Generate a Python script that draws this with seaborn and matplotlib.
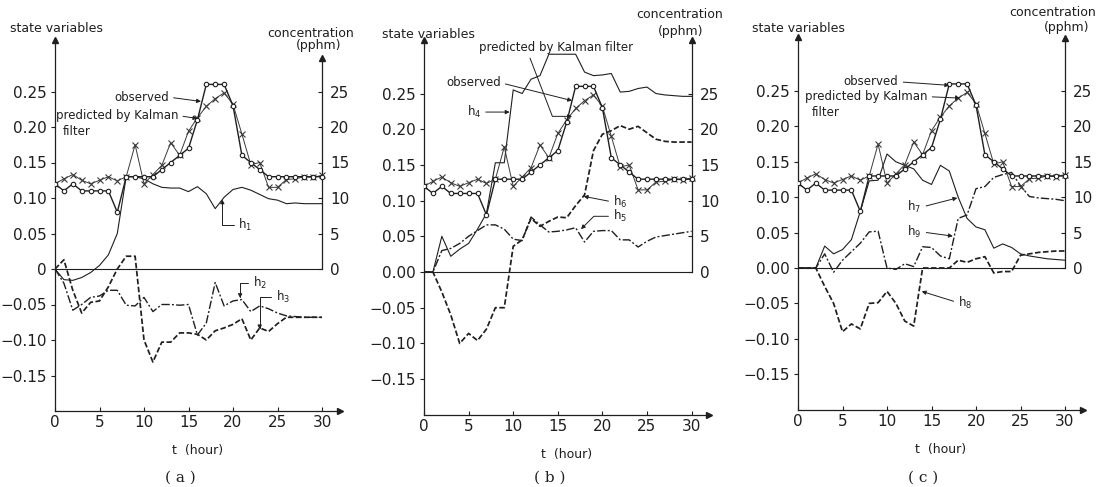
import matplotlib
matplotlib.use("Agg")
import matplotlib.pyplot as plt
import seaborn as sns
import pandas as pd

# ---------------- data ----------------
hours = list(range(31))

observed = [0.12, 0.11, 0.12, 0.11, 0.11, 0.11, 0.11, 0.08, 0.13, 0.13,
            0.13, 0.13, 0.14, 0.15, 0.16, 0.17, 0.21, 0.26, 0.26, 0.26,
            0.23, 0.16, 0.15, 0.14, 0.13, 0.13, 0.13, 0.13, 0.13, 0.13, 0.13]

predicted = [0.120, 0.127, 0.133, 0.125, 0.120, 0.125, 0.130, 0.124, 0.130, 0.175,
             0.120, 0.133, 0.146, 0.178, 0.160, 0.194, 0.213, 0.229, 0.240, 0.248,
             0.232, 0.190, 0.147, 0.150, 0.115, 0.115, 0.126, 0.127, 0.130, 0.129, 0.132]

# panel (a)
h1 = [0.0, -0.015, -0.016, -0.012, -0.005, 0.005, 0.020, 0.050, 0.130, 0.130,
      0.127, 0.120, 0.115, 0.114, 0.114, 0.109, 0.116, 0.106, 0.085, 0.101,
      0.112, 0.115, 0.111, 0.105, 0.099, 0.097, 0.092, 0.093, 0.092, 0.092, 0.092]
h2 = [0.0, -0.020, -0.058, -0.050, -0.040, -0.038, -0.030, -0.030, -0.051, -0.052,
      -0.040, -0.060, -0.050, -0.050, -0.051, -0.050, -0.093, -0.076, -0.019, -0.052,
      -0.045, -0.043, -0.060, -0.052, -0.056, -0.062, -0.066, -0.067, -0.068, -0.068, -0.068]
h3 = [0.0, 0.013, -0.030, -0.062, -0.047, -0.045, -0.025, 0.000, 0.018, 0.018,
      -0.100, -0.131, -0.103, -0.103, -0.090, -0.090, -0.092, -0.100, -0.087, -0.083,
      -0.078, -0.070, -0.100, -0.083, -0.088, -0.077, -0.068, -0.068, -0.068, -0.068, -0.068]

# panel (b)
h4 = [0.0, 0.0, 0.050, 0.022, 0.032, 0.040, 0.060, 0.082, 0.153, 0.153,
      0.255, 0.250, 0.270, 0.275, 0.305, 0.305, 0.305, 0.305, 0.280, 0.275,
      0.276, 0.278, 0.252, 0.253, 0.257, 0.259, 0.250, 0.248, 0.247, 0.246, 0.246]
h5 = [0.0, 0.0, 0.030, 0.033, 0.040, 0.050, 0.058, 0.066, 0.066, 0.060,
      0.046, 0.044, 0.077, 0.066, 0.056, 0.057, 0.059, 0.062, 0.042, 0.057,
      0.058, 0.058, 0.045, 0.045, 0.035, 0.043, 0.049, 0.051, 0.053, 0.055, 0.057]
h6 = [0.0, 0.0, -0.028, -0.060, -0.100, -0.086, -0.096, -0.080, -0.050, -0.050,
      0.036, 0.045, 0.075, 0.064, 0.071, 0.077, 0.076, 0.093, 0.108, 0.170,
      0.193, 0.198, 0.205, 0.200, 0.204, 0.195, 0.186, 0.183, 0.182, 0.182, 0.182]

# panel (c)
h7 = [0.0, 0.0, 0.0, 0.031, 0.020, 0.026, 0.040, 0.080, 0.123, 0.124,
      0.161, 0.150, 0.145, 0.140, 0.124, 0.118, 0.145, 0.137, 0.100, 0.070,
      0.058, 0.054, 0.028, 0.034, 0.029, 0.020, 0.017, 0.015, 0.013, 0.012, 0.011]
h8 = [0.0, 0.0, 0.0, -0.026, -0.050, -0.090, -0.079, -0.086, -0.050, -0.049,
      -0.033, -0.050, -0.075, -0.082, 0.000, 0.000, 0.000, 0.000, 0.011, 0.008,
      0.013, 0.016, -0.007, -0.005, -0.005, 0.018, 0.020, 0.022, 0.023, 0.024, 0.024]
h9 = [0.0, 0.0, 0.0, 0.020, -0.006, 0.011, 0.023, 0.035, 0.051, 0.052,
      0.000, -0.002, 0.006, 0.002, 0.030, 0.029, 0.017, 0.013, 0.070, 0.075,
      0.112, 0.115, 0.128, 0.132, 0.135, 0.116, 0.101, 0.099, 0.098, 0.097, 0.095]

x_ticks = [0, 5, 10, 15, 20, 25, 30]
y_ticks = [-0.15, -0.10, -0.05, 0.0, 0.05, 0.10, 0.15, 0.20, 0.25]
y_labels_a = ["\u22120.15", "\u22120.10", "\u22120.05", "0", "0.05", "0.10", "0.15", "0.20", "0.25"]
y_labels_bc = ["\u22120.15", "\u22120.10", "\u22120.05", "0.00", "0.05", "0.10", "0.15", "0.20", "0.25"]
conc_ticks = [0, 5, 10, 15, 20, 25]
panel_letters = ["( a )", "( b )", "( c )"]

# ---------------- style ----------------
sns.set_theme(style="ticks")
plt.rcParams["font.family"] = ["DejaVu Sans"]
plt.rcParams["mathtext.default"] = "regular"

INK = "#1f1f1f"
W, H = 1102, 487
fig = plt.figure(figsize=(W / 100, H / 100), dpi=100)
fig.patch.set_facecolor("white")

panels = [
    dict(x0=55, sx=8.9, y0=269, sy=710, ytop=0.322, rtop=29.7, ylab=y_labels_a,
         h=[("h$_1$", h1, "solid"), ("h$_2$", h2, "dashdot"), ("h$_3$", h3, "dashed")]),
    dict(x0=424, sx=8.92, y0=272, sy=714, ytop=0.325, rtop=32.5, ylab=y_labels_bc,
         h=[("h$_4$", h4, "solid"), ("h$_5$", h5, "dashdot"), ("h$_6$", h6, "dashed")]),
    dict(x0=798, sx=8.9, y0=268, sy=708, ytop=0.326, rtop=32.5, ylab=y_labels_bc,
         h=[("h$_7$", h7, "solid"), ("h$_9$", h9, "dashdot"), ("h$_8$", h8, "dashed")]),
]

LS = {"solid": "-", "dashdot": (0, (6, 1.6, 1.4, 1.6)), "dashed": (0, (3.2, 1.4))}
LW = {"solid": 0.8, "dashdot": 1.0, "dashed": 1.25}

axes = []
for i, p in enumerate(panels):
    xmax = 32
    left_px = p["x0"]
    right_px = p["x0"] + xmax * p["sx"]
    top_px = p["y0"] - p["ytop"] * p["sy"]
    bot_px = p["y0"] + 0.2 * p["sy"]
    ax = fig.add_axes([left_px / W, 1 - bot_px / H, (right_px - left_px) / W, (bot_px - top_px) / H])
    axes.append(ax)
    ax.set_facecolor("white")
    ax.set_xlim(0, xmax)
    ax.set_ylim(-0.2, p["ytop"])

    ax.axhline(0, xmin=0, xmax=30 / xmax, color=INK, lw=0.8, zorder=1)

    for name, vals, kind in p["h"]:
        sns.lineplot(x=hours, y=vals, ax=ax, color=INK, lw=LW[kind], linestyle=LS[kind],
                     estimator=None, sort=False, legend=False, zorder=2)
    sns.lineplot(x=hours, y=predicted, ax=ax, color="#3a3a3a", lw=0.7, marker="x", ms=4.5,
                 mew=0.8, mec="#3a3a3a", estimator=None, sort=False, legend=False, zorder=3)
    sns.lineplot(x=hours, y=observed, ax=ax, color=INK, lw=1.0, marker="o", ms=3.2,
                 mfc="white", mec=INK, mew=0.8, estimator=None, sort=False, legend=False, zorder=4)

    # axes styling
    for s in ["top", "right"]:
        ax.spines[s].set_visible(False)
    for s in ["left", "bottom"]:
        ax.spines[s].set_color(INK)
        ax.spines[s].set_linewidth(0.9)
    ax.set_xticks(x_ticks)
    ax.set_xticklabels([str(v) for v in x_ticks])
    ax.set_yticks(y_ticks)
    ax.set_yticklabels(p["ylab"])
    ax.tick_params(axis="x", direction="in", length=3, width=0.8, pad=3, labelsize=11, colors=INK)
    ax.tick_params(axis="y", direction="out", length=3, width=0.8, pad=3, labelsize=11, colors=INK)
    ax.set_xlabel("t  (hour)", fontsize=9, color=INK, labelpad=10)
    ax.set_ylabel("")

    # axis arrows
    ax.plot(0, 1, marker="^", color=INK, ms=4, transform=ax.get_xaxis_transform(), clip_on=False)
    ax.plot(1, -0.2, marker=">", color=INK, ms=4, transform=ax.get_yaxis_transform(), clip_on=False)

    # right concentration axis at t = 30
    sec = ax.secondary_yaxis(30 / xmax, functions=(lambda y: y * 100, lambda c: c / 100))
    sec.set_yticks(conc_ticks)
    sec.set_yticklabels([str(v) for v in conc_ticks])
    sec.spines["right"].set_bounds(0, p["rtop"])
    sec.spines["right"].set_color(INK)
    sec.spines["right"].set_linewidth(0.9)
    sec.tick_params(direction="in", length=3, width=0.8, pad=6, labelsize=11, colors=INK)
    ax.plot(30, p["rtop"] / 100, marker="^", color=INK, ms=4, clip_on=False)

    fig.text((left_px + 0.44 * (right_px - left_px)) / W, 9 / H, panel_letters[i],
             family="DejaVu Serif", fontsize=11, ha="center", va="center", color=INK)

# header texts
hdr = dict(fontsize=9, color=INK, va="center")
fig.text(10 / W, 1 - 29 / H, "state variables", ha="left", **hdr)
fig.text(311 / W, 1 - 33 / H, "concentration", ha="center", **hdr)
fig.text(319 / W, 1 - 46 / H, "(pphm)", ha="center", **hdr)
fig.text(382 / W, 1 - 34 / H, "state variables", ha="left", **hdr)
fig.text(680 / W, 1 - 15 / H, "concentration", ha="center", **hdr)
fig.text(681 / W, 1 - 31 / H, "(pphm)", ha="center", **hdr)
fig.text(752 / W, 1 - 29 / H, "state variables", ha="left", **hdr)
fig.text(1053 / W, 1 - 12 / H, "concentration", ha="center", **hdr)
fig.text(1067 / W, 1 - 27 / H, "(pphm)", ha="center", **hdr)

# annotations
def note(ax, text, xy, xytext, ha="left", conn="arc3", relpos=(0.5, 0.5), arrow="-|>"):
    ax.annotate(text, xy=xy, xytext=xytext, ha=ha, va="center", fontsize=8.5, color=INK,
                arrowprops=dict(arrowstyle=arrow, lw=0.7, color=INK, mutation_scale=6,
                                shrinkA=1, shrinkB=0, connectionstyle=conn, relpos=relpos),
                zorder=6)

a, b, c = axes
note(a, "observed", (16.4, 0.236), (12.8, 0.242), ha="right", relpos=(1, 0.5))
note(a, "predicted by Kalman", (16.0, 0.212), (0.1, 0.216), ha="left", relpos=(1, 0.5))
a.text(0.9, 0.194, "filter", fontsize=8.5, color=INK, va="center")
note(a, "h$_1$", (18.8, 0.098), (20.6, 0.062), conn="angle,angleA=0,angleB=90", relpos=(0, 0.5))
note(a, "h$_2$", (20.8, -0.041), (22.2, -0.020), conn="angle,angleA=0,angleB=90", relpos=(0, 0.5))
note(a, "h$_3$", (23.0, -0.085), (24.8, -0.039), conn="angle,angleA=0,angleB=90", relpos=(0, 0.5))

note(b, "predicted by Kalman filter", (16.6, 0.218), (14.8, 0.315), ha="center",
     conn="angle,angleA=-69,angleB=0", relpos=(0.32, 0))
note(b, "observed", (16.6, 0.240), (8.6, 0.265), ha="right", relpos=(1, 0.5))
note(b, "h$_4$", (9.6, 0.224), (4.8, 0.224), ha="left", relpos=(1, 0.5))
note(b, "h$_6$", (17.9, 0.106), (21.2, 0.098), ha="left", relpos=(0, 0.5))
note(b, "h$_5$", (17.6, 0.060), (21.2, 0.078), ha="left", conn="angle,angleA=0,angleB=45", relpos=(0, 0.5))

note(c, "observed", (17.0, 0.258), (11.3, 0.263), ha="right", relpos=(1, 0.5))
note(c, "predicted by Kalman", (18.2, 0.240), (0.8, 0.242), ha="left", relpos=(1, 0.5))
c.text(1.5, 0.219, "filter", fontsize=8.5, color=INK, va="center")
note(c, "h$_7$", (17.9, 0.099), (12.3, 0.086), ha="left", relpos=(1, 0.5))
note(c, "h$_9$", (17.4, 0.045), (12.3, 0.051), ha="left", relpos=(1, 0.5))
note(c, "h$_8$", (13.9, -0.033), (18.0, -0.049), ha="left", relpos=(0, 0.5))

fig.savefig("out.png", dpi=100, facecolor="white")
